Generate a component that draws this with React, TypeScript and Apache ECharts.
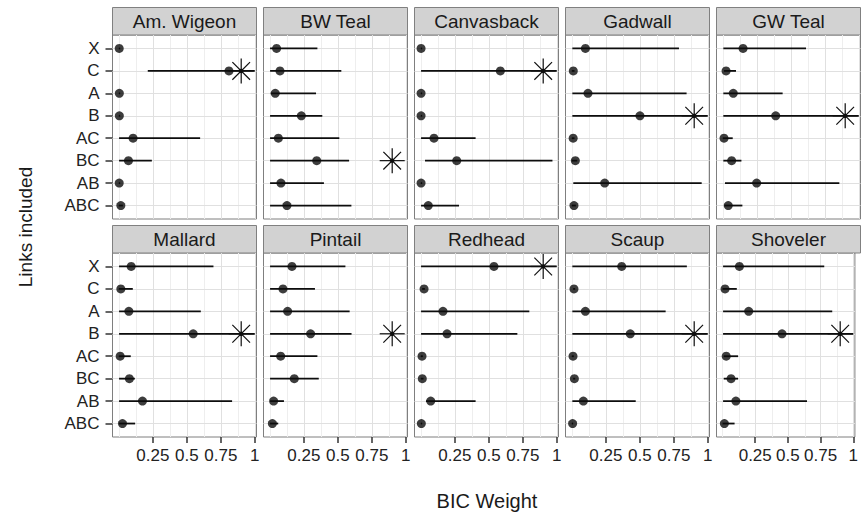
import React, { useEffect, useRef } from 'react';
import * as echarts from 'echarts';

// ---------- data ----------
const species = ['Am. Wigeon', 'BW Teal', 'Canvasback', 'Gadwall', 'GW Teal', 'Mallard', 'Pintail', 'Redhead', 'Scaup', 'Shoveler'];
const links = ['X', 'C', 'A', 'B', 'AC', 'BC', 'AB', 'ABC'];
const xTickValues = [0.25, 0.5, 0.75, 1];
const xMinorValues = [0, 0.125, 0.375, 0.625, 0.875];

const wigeonEst = [0.003, 0.81, 0.004, 0.004, 0.105, 0.071, 0.003, 0.015];
const wigeonLo = [0.0, 0.213, 0.0, 0.0, 0.002, 0.002, 0.0, 0.0];
const wigeonHi = [0.01, 1.0, 0.01, 0.01, 0.598, 0.243, 0.01, 0.03];

const bwTealEst = [0.05, 0.075, 0.04, 0.232, 0.063, 0.345, 0.082, 0.126];
const bwTealLo = [0.002, 0.002, 0.007, 0.002, 0.002, 0.002, 0.002, 0.002];
const bwTealHi = [0.35, 0.526, 0.34, 0.386, 0.511, 0.583, 0.398, 0.6];

const canvasbackEst = [0.002, 0.585, 0.002, 0.002, 0.097, 0.264, 0.002, 0.055];
const canvasbackLo = [0.0, 0.002, 0.0, 0.0, 0.002, 0.031, 0.0, 0.002];
const canvasbackHi = [0.01, 1.0, 0.01, 0.01, 0.403, 0.968, 0.01, 0.281];

const gadwallEst = [0.1, 0.011, 0.119, 0.501, 0.01, 0.026, 0.242, 0.016];
const gadwallLo = [0.004, 0.0, 0.004, 0.004, 0.0, 0.0, 0.011, 0.0];
const gadwallHi = [0.788, 0.02, 0.844, 1.0, 0.02, 0.04, 0.955, 0.03];

const gwTealEst = [0.149, 0.024, 0.077, 0.389, 0.009, 0.065, 0.249, 0.04];
const gwTealLo = [0.004, 0.009, 0.004, 0.004, 0.0, 0.004, 0.016, 0.011];
const gwTealHi = [0.612, 0.097, 0.44, 1.0, 0.073, 0.137, 0.857, 0.144];

const mallardEst = [0.091, 0.015, 0.074, 0.547, 0.01, 0.078, 0.174, 0.027];
const mallardLo = [0.002, 0.0, 0.002, 0.002, 0.0, 0.002, 0.002, 0.002];
const mallardHi = [0.696, 0.103, 0.603, 1.0, 0.088, 0.118, 0.833, 0.12];

const pintailEst = [0.163, 0.097, 0.131, 0.3, 0.08, 0.18, 0.028, 0.019];
const pintailLo = [0.002, 0.002, 0.002, 0.002, 0.002, 0.002, 0.002, 0.002];
const pintailHi = [0.556, 0.332, 0.587, 0.601, 0.35, 0.36, 0.104, 0.062];

const redheadEst = [0.538, 0.024, 0.163, 0.193, 0.009, 0.011, 0.073, 0.004];
const redheadLo = [0.002, 0.01, 0.002, 0.002, 0.0, 0.0, 0.038, 0.0];
const redheadHi = [1.0, 0.03, 0.798, 0.71, 0.015, 0.02, 0.403, 0.01];

const scaupEst = [0.367, 0.016, 0.1, 0.43, 0.009, 0.019, 0.085, 0.006];
const scaupLo = [0.004, 0.01, 0.004, 0.004, 0.0, 0.01, 0.004, 0.0];
const scaupHi = [0.846, 0.025, 0.69, 1.0, 0.015, 0.025, 0.47, 0.01];

const shovelerEst = [0.129, 0.019, 0.2, 0.455, 0.028, 0.065, 0.102, 0.014];
const shovelerLo = [0.004, 0.0, 0.004, 0.004, 0.009, 0.009, 0.004, 0.0];
const shovelerHi = [0.778, 0.109, 0.839, 1.0, 0.119, 0.119, 0.646, 0.092];

const bestModel = ['C', 'BC', 'C', 'B', 'B', 'B', 'B', 'X', 'B', 'B'];
const bestMarkerX = 0.9;

const estimates = [wigeonEst, bwTealEst, canvasbackEst, gadwallEst, gwTealEst, mallardEst, pintailEst, redheadEst, scaupEst, shovelerEst];
const lowers = [wigeonLo, bwTealLo, canvasbackLo, gadwallLo, gwTealLo, mallardLo, pintailLo, redheadLo, scaupLo, shovelerLo];
const uppers = [wigeonHi, bwTealHi, canvasbackHi, gadwallHi, gwTealHi, mallardHi, pintailHi, redheadHi, scaupHi, shovelerHi];

// ---------- layout / style ----------
const FONT = '"Liberation Sans", Arial, Helvetica, sans-serif';
const LEFT0 = 112.5;
const COL_STEP = 151;
const PANEL_W = 144;
const PANEL_H = 184;
const ROW_TOPS = [35, 253];
const STRIP_H = 27.5;
const X_MIN = -0.0463;
const X_MAX = 1.0125;
const Y_MIN = -0.6;
const Y_MAX = 7.6;
const INK = '#0d0d0d';
const MAJOR = '#e0e0e0';
const MINOR = '#eeeeee';

function buildOption() {
  const grids: any[] = [];
  const xAxes: any[] = [];
  const yAxes: any[] = [];
  const series: any[] = [];
  const graphics: any[] = [];

  species.forEach((name, i) => {
    const col = i % 5;
    const row = Math.floor(i / 5);
    const left = LEFT0 + COL_STEP * col;
    const top = ROW_TOPS[row];

    grids.push({
      left, top, width: PANEL_W, height: PANEL_H,
      show: true, backgroundColor: '#ffffff', borderColor: '#7f7f7f', borderWidth: 1,
      containLabel: false,
    });

    xAxes.push({
      type: 'value', gridIndex: i, min: X_MIN, max: X_MAX, position: 'bottom',
      axisLine: { show: false, onZero: false },
      splitLine: { show: false },
      axisTick: { show: row === 1, customValues: xTickValues, length: 6, lineStyle: { color: '#333', width: 1.5 } },
      axisLabel: {
        show: row === 1, customValues: xTickValues, margin: 10,
        fontSize: 17, color: '#222', fontFamily: FONT,
        formatter: (v: number) => String(v),
      },
    });

    yAxes.push({
      type: 'value', gridIndex: i, min: Y_MIN, max: Y_MAX, inverse: true, position: 'left',
      axisLine: { show: false, onZero: false },
      splitLine: { show: false },
      axisTick: { show: col === 0, customValues: links.map((_, k) => k), length: 7, lineStyle: { color: '#333', width: 1.5 } },
      axisLabel: {
        show: col === 0, customValues: links.map((_, k) => k), margin: 13,
        fontSize: 17, color: '#222', fontFamily: FONT,
        formatter: (v: number) => links[Math.round(v)] ?? '',
      },
    });

    // grid lines (drawn beneath the marks)
    series.push({
      type: 'scatter', xAxisIndex: i, yAxisIndex: i, data: [], z: 1, silent: true,
      markLine: {
        z: 1,
        silent: true, symbol: ['none', 'none'], label: { show: false }, animation: false,
        emphasis: { disabled: true },
        data: [
          ...xMinorValues.map((v) => ({ xAxis: v, lineStyle: { color: MINOR, width: 1, type: 'solid' } })),
          ...xTickValues.map((v) => ({ xAxis: v, lineStyle: { color: MAJOR, width: 1, type: 'solid' } })),
          ...links.map((_, k) => ({ yAxis: k, lineStyle: { color: MAJOR, width: 1, type: 'solid' } })),
        ],
      },
    });

    // error bars
    series.push({
      type: 'custom', xAxisIndex: i, yAxisIndex: i, z: 3, silent: true, clip: true,
      data: links.map((_, k) => [lowers[i][k], uppers[i][k], k]),
      encode: { x: [0, 1], y: 2 },
      renderItem: (params: any, api: any) => {
        const a = api.coord([api.value(0), api.value(2)]);
        const b = api.coord([api.value(1), api.value(2)]);
        return {
          type: 'line',
          shape: { x1: a[0], y1: a[1], x2: b[0], y2: b[1] },
          style: { stroke: INK, lineWidth: 1.8 },
        };
      },
    });

    // point estimates
    series.push({
      type: 'scatter', xAxisIndex: i, yAxisIndex: i, z: 4, silent: true,
      symbol: 'circle', symbolSize: 9,
      itemStyle: { color: INK },
      data: links.map((_, k) => [estimates[i][k], k]),
    });

    // best model marker (asterisk)
    series.push({
      type: 'custom', xAxisIndex: i, yAxisIndex: i, z: 5, silent: true,
      data: [[bestMarkerX, links.indexOf(bestModel[i])]],
      encode: { x: 0, y: 1 },
      renderItem: (params: any, api: any) => {
        const c = api.coord([api.value(0), api.value(1)]);
        const r = 12.5;
        const d = r / Math.SQRT2;
        const st = { stroke: INK, lineWidth: 1.2 };
        return {
          type: 'group',
          children: [
            { type: 'line', shape: { x1: c[0] - r, y1: c[1], x2: c[0] + r, y2: c[1] }, style: st },
            { type: 'line', shape: { x1: c[0], y1: c[1] - r, x2: c[0], y2: c[1] + r }, style: st },
            { type: 'line', shape: { x1: c[0] - d, y1: c[1] - d, x2: c[0] + d, y2: c[1] + d }, style: st },
            { type: 'line', shape: { x1: c[0] - d, y1: c[1] + d, x2: c[0] + d, y2: c[1] - d }, style: st },
            { type: 'circle', shape: { cx: c[0], cy: c[1], r: 2.2 }, style: { fill: INK } },
          ],
        };
      },
    });

    // strip
    graphics.push({
      type: 'rect', silent: true,
      shape: { x: left, y: top - STRIP_H, width: PANEL_W, height: STRIP_H },
      style: { fill: '#d2d2d2', stroke: '#808080', lineWidth: 1 },
    });
    graphics.push({
      type: 'text', silent: true,
      x: left + PANEL_W / 2, y: top - STRIP_H / 2 + 0.5,
      style: { text: name, fill: '#1a1a1a', font: `19px ${FONT}`, textAlign: 'center', textVerticalAlign: 'middle' },
    });
  });

  graphics.push({
    type: 'text', silent: true,
    x: 25, y: 227, rotation: Math.PI / 2,
    style: { text: 'Links included', fill: '#1a1a1a', font: `19px ${FONT}`, textAlign: 'center', textVerticalAlign: 'middle' },
  });
  graphics.push({
    type: 'text', silent: true,
    x: 487, y: 501,
    style: { text: 'BIC Weight', fill: '#1a1a1a', font: `20px ${FONT}`, textAlign: 'center', textVerticalAlign: 'middle' },
  });

  return {
    animation: false,
    backgroundColor: '#ffffff',
    grid: grids,
    xAxis: xAxes,
    yAxis: yAxes,
    series,
    graphic: graphics,
  };
}

export default function App() {
  const ref = useRef<HTMLDivElement>(null);
  useEffect(() => {
    document.body.style.margin = '0';
    if (!ref.current) return;
    const chart = echarts.init(ref.current, undefined, { renderer: 'svg' });
    chart.setOption(buildOption() as any);
    return () => chart.dispose();
  }, []);
  return <div ref={ref} style={{ width: 861, height: 518 }} />;
}
